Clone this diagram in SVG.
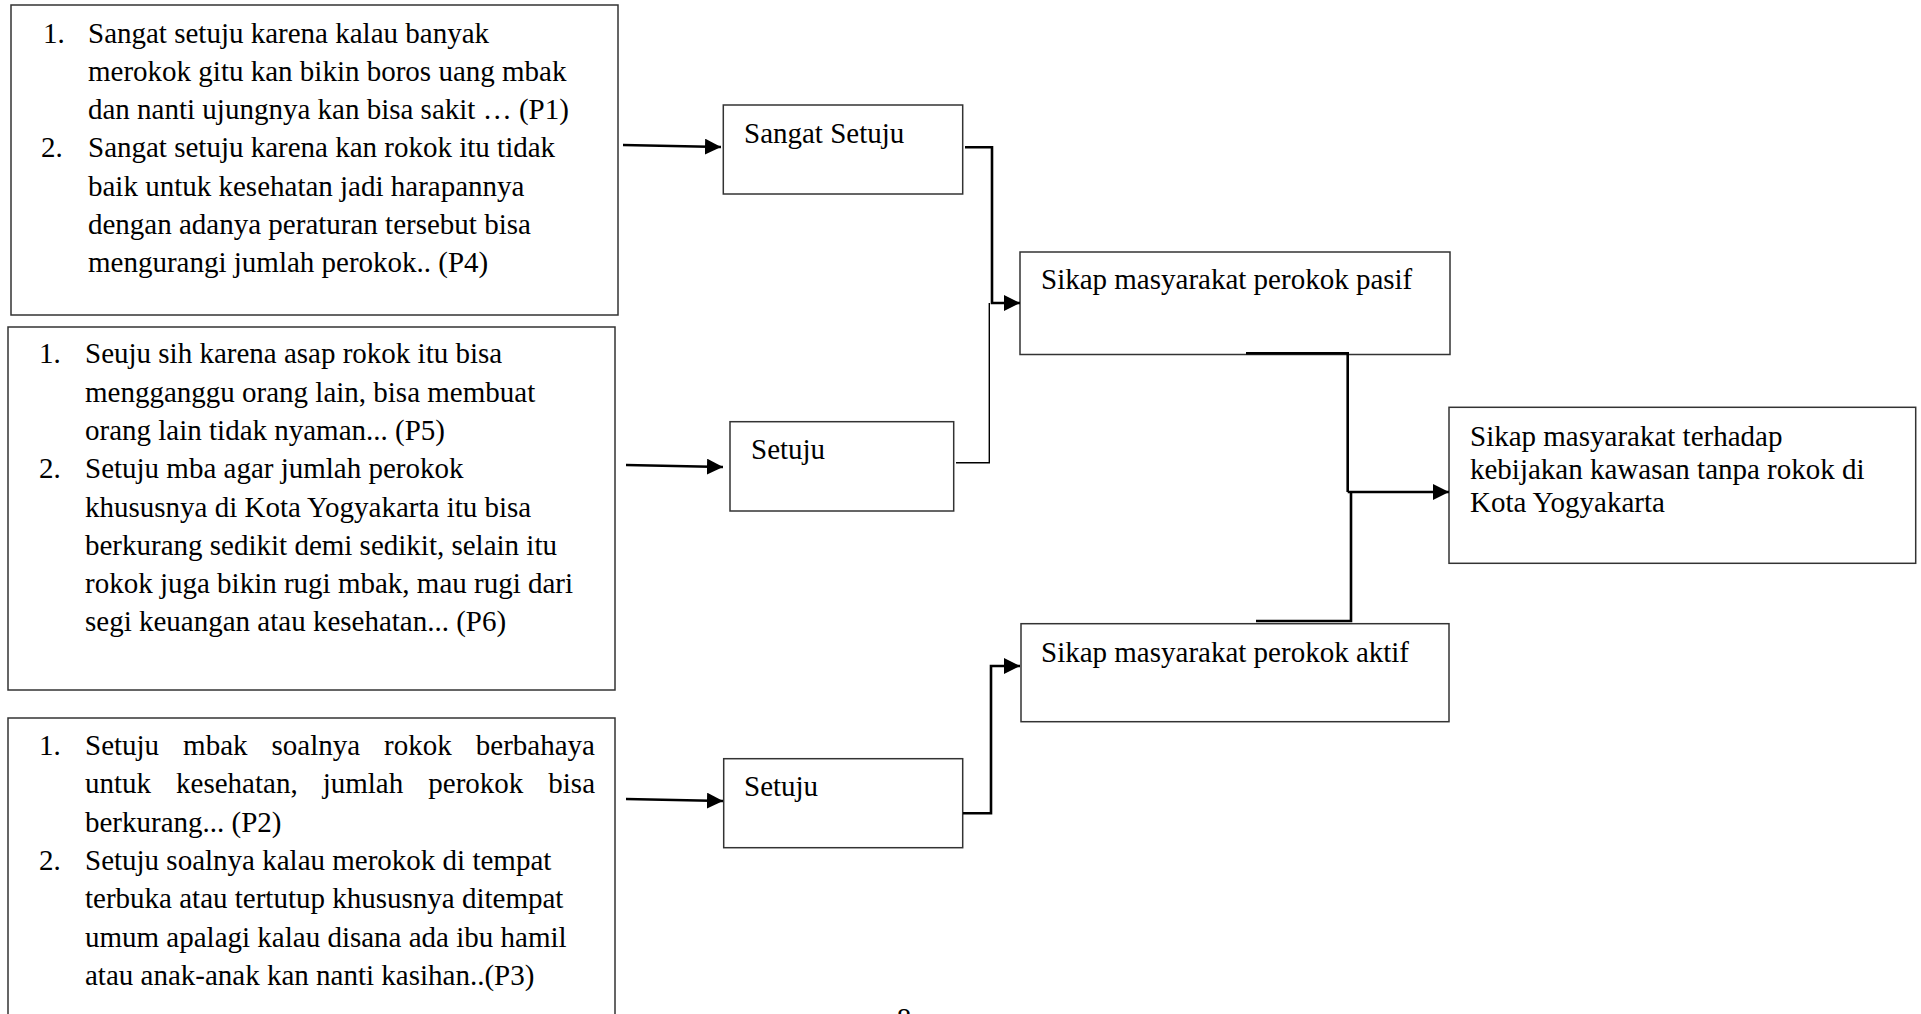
<svg xmlns="http://www.w3.org/2000/svg" width="1921" height="1014" viewBox="0 0 1921 1014">
  <style>
    .box { fill: #ffffff; stroke: #333333; stroke-width: 1.5; }
    .txt { font-family: "Liberation Serif", "Times New Roman", serif; font-size: 29px; fill: #000000; }
    .thick { fill: none; stroke: #000000; stroke-width: 2.6; }
    .thin { fill: none; stroke: #000000; stroke-width: 1.4; }
  </style>
  <defs>
    <marker id="arrow" viewBox="0 0 16 16" refX="16" refY="8" markerWidth="16" markerHeight="16" markerUnits="userSpaceOnUse" orient="auto">
      <path d="M0,0 L16,8 L0,16 Z" fill="#000000"/>
    </marker>
  </defs>

  <rect width="1921" height="1014" fill="#ffffff"/>

  <!-- quotes: strongly agree -->
  <g id="quotes-sangat-setuju">
    <rect class="box" x="11" y="5" width="607" height="310"/>
    <text class="txt">
      <tspan x="43" y="42.5">1.</tspan>
      <tspan x="88" y="42.5">Sangat setuju karena kalau banyak</tspan>
      <tspan x="88" y="80.8">merokok gitu kan bikin boros uang mbak</tspan>
      <tspan x="88" y="119.1">dan nanti ujungnya kan bisa sakit … (P1)</tspan>
      <tspan x="41" y="157.4">2.</tspan>
      <tspan x="88" y="157.4">Sangat setuju karena kan rokok itu tidak</tspan>
      <tspan x="88" y="195.7">baik untuk kesehatan jadi harapannya</tspan>
      <tspan x="88" y="234">dengan adanya peraturan tersebut bisa</tspan>
      <tspan x="88" y="272.3">mengurangi jumlah perokok.. (P4)</tspan>
    </text>
  </g>

  <!-- quotes: agree (passive smokers) -->
  <g id="quotes-setuju-pasif">
    <rect class="box" x="8" y="327" width="607" height="363"/>
    <text class="txt">
      <tspan x="39" y="363.3">1.</tspan>
      <tspan x="85" y="363.3">Seuju sih karena asap rokok itu bisa</tspan>
      <tspan x="85" y="401.6">mengganggu orang lain, bisa membuat</tspan>
      <tspan x="85" y="439.9">orang lain tidak nyaman... (P5)</tspan>
      <tspan x="39" y="478.2">2.</tspan>
      <tspan x="85" y="478.2">Setuju mba agar jumlah perokok</tspan>
      <tspan x="85" y="516.5">khususnya di Kota Yogyakarta itu bisa</tspan>
      <tspan x="85" y="554.8">berkurang sedikit demi sedikit, selain itu</tspan>
      <tspan x="85" y="593.1">rokok juga bikin rugi mbak, mau rugi dari</tspan>
      <tspan x="85" y="631.4">segi keuangan atau kesehatan... (P6)</tspan>
    </text>
  </g>

  <!-- quotes: agree (active smokers) -->
  <g id="quotes-setuju-aktif">
    <rect class="box" x="8" y="718" width="607" height="310"/>
    <text class="txt">
      <tspan x="39" y="755">1.</tspan>
      <tspan x="85" y="755">Setuju</tspan>
      <tspan x="183.1" y="755">mbak</tspan>
      <tspan x="271.5" y="755">soalnya</tspan>
      <tspan x="384.1" y="755">rokok</tspan>
      <tspan x="475.8" y="755">berbahaya</tspan>
      <tspan x="85" y="793.3">untuk</tspan>
      <tspan x="176.1" y="793.3">kesehatan,</tspan>
      <tspan x="322.7" y="793.3">jumlah</tspan>
      <tspan x="428.3" y="793.3">perokok</tspan>
      <tspan x="548.3" y="793.3">bisa</tspan>
      <tspan x="85" y="831.6">berkurang... (P2)</tspan>
      <tspan x="39" y="869.9">2.</tspan>
      <tspan x="85" y="869.9">Setuju soalnya kalau merokok di tempat</tspan>
      <tspan x="85" y="908.2">terbuka atau tertutup khususnya ditempat</tspan>
      <tspan x="85" y="946.5">umum apalagi kalau disana ada ibu hamil</tspan>
      <tspan x="85" y="984.8">atau anak-anak kan nanti kasihan..(P3)</tspan>
    </text>
  </g>

  <g id="sangat-setuju">
    <rect class="box" x="723.3" y="105" width="239.4" height="89"/>
    <text class="txt" x="744" y="143">Sangat Setuju</text>
  </g>

  <g id="setuju-1">
    <rect class="box" x="730" y="421.7" width="223.7" height="89.3"/>
    <text class="txt" x="751" y="459">Setuju</text>
  </g>

  <g id="setuju-2">
    <rect class="box" x="723.7" y="758.7" width="239" height="89"/>
    <text class="txt" x="744" y="796">Setuju</text>
  </g>

  <g id="perokok-pasif">
    <rect class="box" x="1020" y="252" width="430" height="102.5"/>
    <text class="txt" x="1041" y="289">Sikap masyarakat perokok pasif</text>
  </g>

  <g id="perokok-aktif">
    <rect class="box" x="1021" y="623.7" width="428" height="98"/>
    <text class="txt" x="1041" y="662">Sikap masyarakat perokok aktif</text>
  </g>

  <g id="sikap-masyarakat">
    <rect class="box" x="1449" y="407.3" width="466.7" height="156"/>
    <text class="txt">
      <tspan x="1470" y="445.7">Sikap masyarakat terhadap</tspan>
      <tspan x="1470" y="479">kebijakan kawasan tanpa rokok di</tspan>
      <tspan x="1470" y="512.3">Kota Yogyakarta</tspan>
    </text>
  </g>

  <g id="connectors">
    <!-- quotes to answer boxes -->
    <path class="thick" d="M623,145 L721,147" marker-end="url(#arrow)"/>
    <path class="thick" d="M626,465 L723,467" marker-end="url(#arrow)"/>
    <path class="thick" d="M626,799 L723,801" marker-end="url(#arrow)"/>
    <!-- answers to smoker groups -->
    <path class="thick" d="M965,147.3 L992,147.3 L992,303 L1020,303" marker-end="url(#arrow)"/>
    <path class="thin" d="M956,462.7 L989.3,462.7 L989.3,303"/>
    <path class="thick" d="M963,813.3 L991,813.3 L991,666 L1020,666" marker-end="url(#arrow)"/>
    <!-- smoker groups to overall attitude -->
    <path class="thick" d="M1246,353.3 L1347.7,353.3 L1347.7,492"/>
    <path class="thick" d="M1256,621 L1351,621 L1351,492"/>
    <path class="thick" d="M1347.7,492 L1449,492" marker-end="url(#arrow)"/>
  </g>

  <!-- page number -->
  <text class="txt" x="904" y="1028" text-anchor="middle">8</text>
</svg>
